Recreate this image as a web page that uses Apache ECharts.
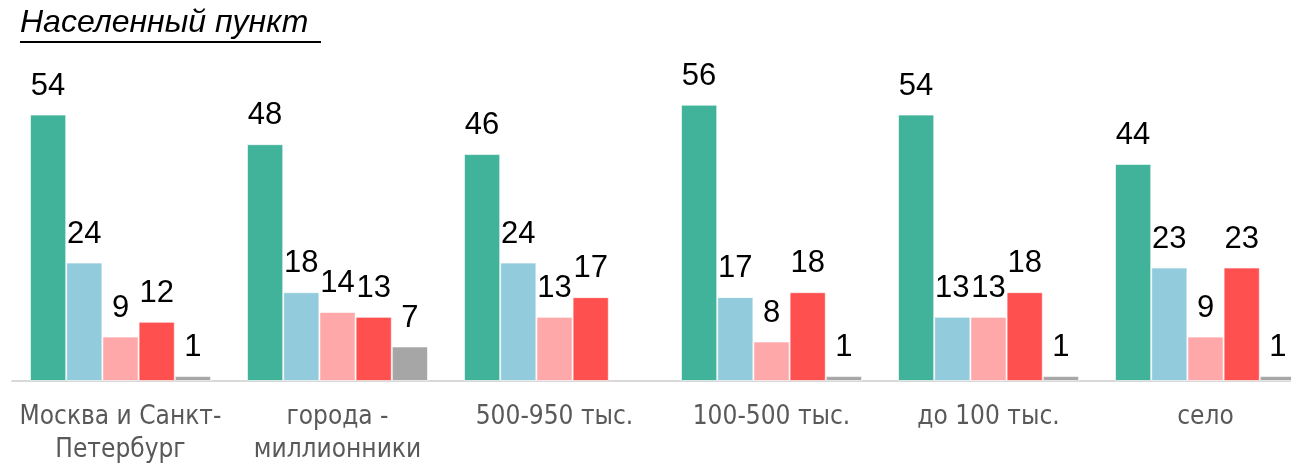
<!DOCTYPE html>
<html><head><meta charset="utf-8">
<script src="https://cdn.jsdelivr.net/npm/echarts@6/dist/echarts.min.js"></script>
<style>html,body{margin:0;padding:0;background:#fff;overflow:hidden}#c{width:1291px;height:465px}</style>
</head><body><div id="c"></div>
<script>
const categories = ['Москва и Санкт-\nПетербург', 'города -\nмиллионники', '500-950 тыс.', '100-500 тыс.', 'до 100 тыс.', 'село'];
const seriesA = [54, 48, 46, 56, 54, 44];
const seriesB = [24, 18, 24, 17, 13, 23];
const seriesC = [9, 14, 13, 8, 13, 9];
const seriesD = [12, 13, 17, 18, 18, 23];
const seriesE = [1, 7, null, 1, 1, 1];
const colors = ['#41b39a', '#92cbdc', '#ffa8aa', '#ff5050', '#a6a6a6'];
const titleText = 'Населенный пункт';

const chart = echarts.init(document.getElementById('c'));
const mk = (data, i) => ({
  type: 'bar', data: data, barGap: '0%', barCategoryGap: '16.6%',
  itemStyle: { color: colors[i], borderColor: 'rgba(255,255,255,0.6)', borderWidth: 1 },
  label: { show: true, position: 'top', distance: 13, color: '#000', fontFamily: 'Liberation Sans', fontSize: 31 },
  silent: true
});
chart.setOption({
  animation: false,
  grid: { left: 12, width: 1302, top: 85, height: 296, containLabel: false, outerBoundsMode: 'none' },
  xAxis: {
    type: 'category', data: categories,
    axisLine: { lineStyle: { color: '#d9d9d9', width: 2 } },
    axisTick: { show: false },
    axisLabel: { color: '#595959', fontFamily: '"Liberation Sans Narrow", "DejaVu Sans Condensed", "Liberation Sans", sans-serif', fontSize: 26, lineHeight: 33, margin: 20, interval: 0 }
  },
  yAxis: { type: 'value', min: 0, max: 60, show: false, splitLine: { show: false } },
  series: [mk(seriesA, 0), mk(seriesB, 1), mk(seriesC, 2), mk(seriesD, 3), mk(seriesE, 4)],
  graphic: [
    { type: 'text', left: 20, top: 7, style: { text: titleText, font: 'italic 32px "Liberation Sans"', fill: '#000' } },
    { type: 'line', shape: { x1: 20, y1: 42, x2: 321, y2: 42 }, style: { stroke: '#000', lineWidth: 2 } }
  ]
});
</script></body></html>
